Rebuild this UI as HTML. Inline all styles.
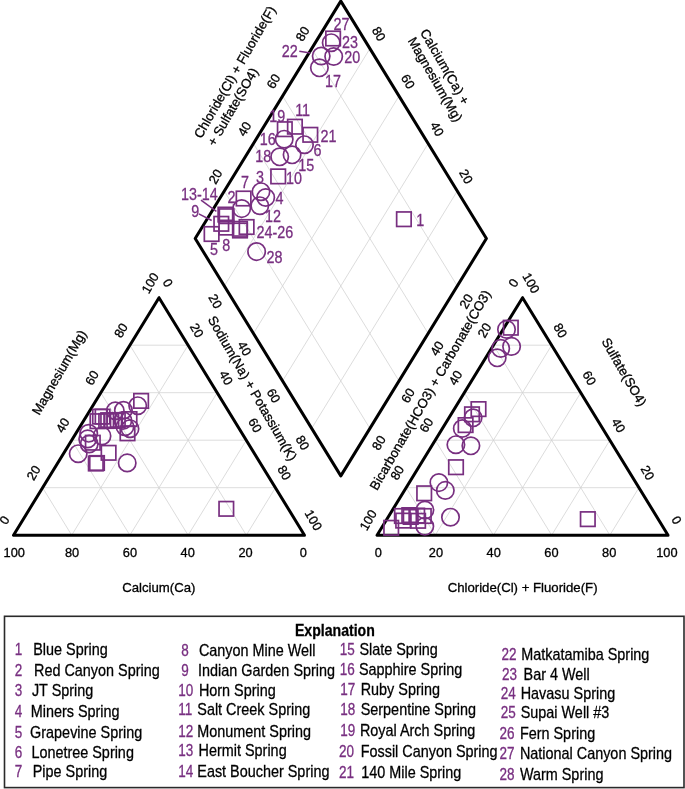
<!DOCTYPE html>
<html><head><meta charset="utf-8"><title>Piper diagram</title>
<style>html,body{margin:0;padding:0;background:#fff}svg{display:block;will-change:transform}text{font-family:"Liberation Sans",sans-serif}</style>
</head><body>
<svg width="685" height="789" viewBox="0 0 685 789">
<rect width="685" height="789" fill="#fff"/>
<line x1="42.60" y1="487.70" x2="275.40" y2="487.70" stroke="#d3d3d3" stroke-width="0.8"/>
<line x1="71.70" y1="535.20" x2="188.10" y2="345.20" stroke="#d3d3d3" stroke-width="0.8"/>
<line x1="246.30" y1="535.20" x2="129.90" y2="345.20" stroke="#d3d3d3" stroke-width="0.8"/>
<line x1="71.70" y1="440.20" x2="246.30" y2="440.20" stroke="#d3d3d3" stroke-width="0.8"/>
<line x1="129.90" y1="535.20" x2="217.20" y2="392.70" stroke="#d3d3d3" stroke-width="0.8"/>
<line x1="188.10" y1="535.20" x2="100.80" y2="392.70" stroke="#d3d3d3" stroke-width="0.8"/>
<line x1="100.80" y1="392.70" x2="217.20" y2="392.70" stroke="#d3d3d3" stroke-width="0.8"/>
<line x1="188.10" y1="535.20" x2="246.30" y2="440.20" stroke="#d3d3d3" stroke-width="0.8"/>
<line x1="129.90" y1="535.20" x2="71.70" y2="440.20" stroke="#d3d3d3" stroke-width="0.8"/>
<line x1="129.90" y1="345.20" x2="188.10" y2="345.20" stroke="#d3d3d3" stroke-width="0.8"/>
<line x1="246.30" y1="535.20" x2="275.40" y2="487.70" stroke="#d3d3d3" stroke-width="0.8"/>
<line x1="71.70" y1="535.20" x2="42.60" y2="487.70" stroke="#d3d3d3" stroke-width="0.8"/>
<line x1="406.15" y1="487.70" x2="638.95" y2="487.70" stroke="#d3d3d3" stroke-width="0.8"/>
<line x1="435.25" y1="535.20" x2="551.65" y2="345.20" stroke="#d3d3d3" stroke-width="0.8"/>
<line x1="609.85" y1="535.20" x2="493.45" y2="345.20" stroke="#d3d3d3" stroke-width="0.8"/>
<line x1="435.25" y1="440.20" x2="609.85" y2="440.20" stroke="#d3d3d3" stroke-width="0.8"/>
<line x1="493.45" y1="535.20" x2="580.75" y2="392.70" stroke="#d3d3d3" stroke-width="0.8"/>
<line x1="551.65" y1="535.20" x2="464.35" y2="392.70" stroke="#d3d3d3" stroke-width="0.8"/>
<line x1="464.35" y1="392.70" x2="580.75" y2="392.70" stroke="#d3d3d3" stroke-width="0.8"/>
<line x1="551.65" y1="535.20" x2="609.85" y2="440.20" stroke="#d3d3d3" stroke-width="0.8"/>
<line x1="493.45" y1="535.20" x2="435.25" y2="440.20" stroke="#d3d3d3" stroke-width="0.8"/>
<line x1="493.45" y1="345.20" x2="551.65" y2="345.20" stroke="#d3d3d3" stroke-width="0.8"/>
<line x1="609.85" y1="535.20" x2="638.95" y2="487.70" stroke="#d3d3d3" stroke-width="0.8"/>
<line x1="435.25" y1="535.20" x2="406.15" y2="487.70" stroke="#d3d3d3" stroke-width="0.8"/>
<line x1="224.32" y1="191.02" x2="369.92" y2="428.42" stroke="#d3d3d3" stroke-width="0.8"/>
<line x1="224.32" y1="285.98" x2="369.92" y2="48.58" stroke="#d3d3d3" stroke-width="0.8"/>
<line x1="253.44" y1="143.54" x2="399.04" y2="380.94" stroke="#d3d3d3" stroke-width="0.8"/>
<line x1="253.44" y1="333.46" x2="399.04" y2="96.06" stroke="#d3d3d3" stroke-width="0.8"/>
<line x1="282.56" y1="96.06" x2="428.16" y2="333.46" stroke="#d3d3d3" stroke-width="0.8"/>
<line x1="282.56" y1="380.94" x2="428.16" y2="143.54" stroke="#d3d3d3" stroke-width="0.8"/>
<line x1="311.68" y1="48.58" x2="457.28" y2="285.98" stroke="#d3d3d3" stroke-width="0.8"/>
<line x1="311.68" y1="428.42" x2="457.28" y2="191.02" stroke="#d3d3d3" stroke-width="0.8"/>
<polygon points="13.50,535.20 304.50,535.20 159.00,297.70" fill="none" stroke="#000" stroke-width="3" stroke-linejoin="round"/>
<polygon points="377.05,535.20 668.05,535.20 522.55,297.70" fill="none" stroke="#000" stroke-width="3" stroke-linejoin="round"/>
<polygon points="195.20,238.50 340.80,1.10 486.40,238.50 340.80,475.90" fill="none" stroke="#000" stroke-width="3" stroke-linejoin="round"/>
<rect x="396.65" y="211.95" width="14.5" height="14.5" fill="none" stroke="#782f80" stroke-width="1.7"/>
<rect x="204.35" y="226.75" width="14.5" height="14.5" fill="none" stroke="#782f80" stroke-width="1.7"/>
<rect x="214.05" y="216.55" width="14.5" height="14.5" fill="none" stroke="#782f80" stroke-width="1.7"/>
<rect x="218.15" y="207.35" width="14.5" height="14.5" fill="none" stroke="#782f80" stroke-width="1.7"/>
<rect x="219.35" y="208.95" width="14.5" height="14.5" fill="none" stroke="#782f80" stroke-width="1.7"/>
<rect x="219.05" y="220.35" width="14.5" height="14.5" fill="none" stroke="#782f80" stroke-width="1.7"/>
<rect x="232.75" y="221.55" width="14.5" height="14.5" fill="none" stroke="#782f80" stroke-width="1.7"/>
<rect x="232.75" y="223.25" width="14.5" height="14.5" fill="none" stroke="#782f80" stroke-width="1.7"/>
<rect x="239.35" y="219.75" width="14.5" height="14.5" fill="none" stroke="#782f80" stroke-width="1.7"/>
<rect x="236.35" y="191.25" width="14.5" height="14.5" fill="none" stroke="#782f80" stroke-width="1.7"/>
<rect x="270.95" y="169.15" width="14.5" height="14.5" fill="none" stroke="#782f80" stroke-width="1.7"/>
<rect x="277.55" y="121.95" width="14.5" height="14.5" fill="none" stroke="#782f80" stroke-width="1.7"/>
<rect x="287.65" y="119.45" width="14.5" height="14.5" fill="none" stroke="#782f80" stroke-width="1.7"/>
<rect x="303.05" y="127.55" width="14.5" height="14.5" fill="none" stroke="#782f80" stroke-width="1.7"/>
<rect x="325.85" y="31.25" width="14.5" height="14.5" fill="none" stroke="#782f80" stroke-width="1.7"/>
<rect x="219.05" y="501.55" width="14.5" height="14.5" fill="none" stroke="#782f80" stroke-width="1.7"/>
<rect x="90.25" y="413.95" width="14.5" height="14.5" fill="none" stroke="#782f80" stroke-width="1.7"/>
<rect x="92.75" y="409.35" width="14.5" height="14.5" fill="none" stroke="#782f80" stroke-width="1.7"/>
<rect x="95.35" y="409.35" width="14.5" height="14.5" fill="none" stroke="#782f80" stroke-width="1.7"/>
<rect x="98.95" y="413.75" width="14.5" height="14.5" fill="none" stroke="#782f80" stroke-width="1.7"/>
<rect x="100.95" y="412.95" width="14.5" height="14.5" fill="none" stroke="#782f80" stroke-width="1.7"/>
<rect x="104.05" y="413.55" width="14.5" height="14.5" fill="none" stroke="#782f80" stroke-width="1.7"/>
<rect x="107.05" y="413.15" width="14.5" height="14.5" fill="none" stroke="#782f80" stroke-width="1.7"/>
<rect x="110.55" y="412.75" width="14.5" height="14.5" fill="none" stroke="#782f80" stroke-width="1.7"/>
<rect x="122.25" y="411.85" width="14.5" height="14.5" fill="none" stroke="#782f80" stroke-width="1.7"/>
<rect x="120.25" y="426.05" width="14.5" height="14.5" fill="none" stroke="#782f80" stroke-width="1.7"/>
<rect x="133.85" y="393.65" width="14.5" height="14.5" fill="none" stroke="#782f80" stroke-width="1.7"/>
<rect x="85.55" y="435.45" width="14.5" height="14.5" fill="none" stroke="#782f80" stroke-width="1.7"/>
<rect x="101.35" y="445.55" width="14.5" height="14.5" fill="none" stroke="#782f80" stroke-width="1.7"/>
<rect x="88.55" y="456.25" width="14.5" height="14.5" fill="none" stroke="#782f80" stroke-width="1.7"/>
<rect x="89.75" y="455.75" width="14.5" height="14.5" fill="none" stroke="#782f80" stroke-width="1.7"/>
<rect x="580.55" y="511.90" width="14.5" height="14.5" fill="none" stroke="#782f80" stroke-width="1.7"/>
<rect x="383.95" y="520.55" width="14.5" height="14.5" fill="none" stroke="#782f80" stroke-width="1.7"/>
<rect x="394.65" y="508.75" width="14.5" height="14.5" fill="none" stroke="#782f80" stroke-width="1.7"/>
<rect x="395.95" y="513.35" width="14.5" height="14.5" fill="none" stroke="#782f80" stroke-width="1.7"/>
<rect x="402.05" y="507.85" width="14.5" height="14.5" fill="none" stroke="#782f80" stroke-width="1.7"/>
<rect x="403.45" y="509.65" width="14.5" height="14.5" fill="none" stroke="#782f80" stroke-width="1.7"/>
<rect x="409.95" y="508.35" width="14.5" height="14.5" fill="none" stroke="#782f80" stroke-width="1.7"/>
<rect x="410.85" y="513.55" width="14.5" height="14.5" fill="none" stroke="#782f80" stroke-width="1.7"/>
<rect x="416.55" y="508.75" width="14.5" height="14.5" fill="none" stroke="#782f80" stroke-width="1.7"/>
<rect x="416.95" y="486.05" width="14.5" height="14.5" fill="none" stroke="#782f80" stroke-width="1.7"/>
<rect x="448.75" y="459.95" width="14.5" height="14.5" fill="none" stroke="#782f80" stroke-width="1.7"/>
<rect x="503.55" y="320.45" width="14.5" height="14.5" fill="none" stroke="#782f80" stroke-width="1.7"/>
<rect x="471.25" y="401.85" width="14.5" height="14.5" fill="none" stroke="#782f80" stroke-width="1.7"/>
<rect x="464.75" y="407.05" width="14.5" height="14.5" fill="none" stroke="#782f80" stroke-width="1.7"/>
<rect x="458.35" y="417.85" width="14.5" height="14.5" fill="none" stroke="#782f80" stroke-width="1.7"/>
<circle cx="241.70" cy="208.60" r="8.7" fill="none" stroke="#782f80" stroke-width="1.7"/>
<circle cx="261.00" cy="191.70" r="8.7" fill="none" stroke="#782f80" stroke-width="1.7"/>
<circle cx="265.70" cy="197.50" r="8.7" fill="none" stroke="#782f80" stroke-width="1.7"/>
<circle cx="259.80" cy="205.70" r="8.7" fill="none" stroke="#782f80" stroke-width="1.7"/>
<circle cx="256.60" cy="251.60" r="8.7" fill="none" stroke="#782f80" stroke-width="1.7"/>
<circle cx="279.70" cy="156.80" r="8.7" fill="none" stroke="#782f80" stroke-width="1.7"/>
<circle cx="292.10" cy="154.80" r="8.7" fill="none" stroke="#782f80" stroke-width="1.7"/>
<circle cx="284.20" cy="139.20" r="8.7" fill="none" stroke="#782f80" stroke-width="1.7"/>
<circle cx="304.50" cy="144.70" r="8.7" fill="none" stroke="#782f80" stroke-width="1.7"/>
<circle cx="331.20" cy="42.70" r="8.7" fill="none" stroke="#782f80" stroke-width="1.7"/>
<circle cx="321.20" cy="56.00" r="8.7" fill="none" stroke="#782f80" stroke-width="1.7"/>
<circle cx="333.70" cy="56.50" r="8.7" fill="none" stroke="#782f80" stroke-width="1.7"/>
<circle cx="319.40" cy="67.80" r="8.7" fill="none" stroke="#782f80" stroke-width="1.7"/>
<circle cx="137.70" cy="405.70" r="8.7" fill="none" stroke="#782f80" stroke-width="1.7"/>
<circle cx="115.30" cy="410.80" r="8.7" fill="none" stroke="#782f80" stroke-width="1.7"/>
<circle cx="123.40" cy="410.30" r="8.7" fill="none" stroke="#782f80" stroke-width="1.7"/>
<circle cx="122.90" cy="420.50" r="8.7" fill="none" stroke="#782f80" stroke-width="1.7"/>
<circle cx="125.00" cy="426.70" r="8.7" fill="none" stroke="#782f80" stroke-width="1.7"/>
<circle cx="130.00" cy="428.70" r="8.7" fill="none" stroke="#782f80" stroke-width="1.7"/>
<circle cx="102.00" cy="435.90" r="8.7" fill="none" stroke="#782f80" stroke-width="1.7"/>
<circle cx="88.70" cy="433.30" r="8.7" fill="none" stroke="#782f80" stroke-width="1.7"/>
<circle cx="87.70" cy="438.90" r="8.7" fill="none" stroke="#782f80" stroke-width="1.7"/>
<circle cx="89.20" cy="444.00" r="8.7" fill="none" stroke="#782f80" stroke-width="1.7"/>
<circle cx="78.20" cy="453.70" r="8.7" fill="none" stroke="#782f80" stroke-width="1.7"/>
<circle cx="127.20" cy="462.90" r="8.7" fill="none" stroke="#782f80" stroke-width="1.7"/>
<circle cx="424.90" cy="510.10" r="8.7" fill="none" stroke="#782f80" stroke-width="1.7"/>
<circle cx="424.80" cy="526.30" r="8.7" fill="none" stroke="#782f80" stroke-width="1.7"/>
<circle cx="438.90" cy="482.60" r="8.7" fill="none" stroke="#782f80" stroke-width="1.7"/>
<circle cx="445.30" cy="490.40" r="8.7" fill="none" stroke="#782f80" stroke-width="1.7"/>
<circle cx="450.50" cy="517.20" r="8.7" fill="none" stroke="#782f80" stroke-width="1.7"/>
<circle cx="506.50" cy="329.40" r="8.7" fill="none" stroke="#782f80" stroke-width="1.7"/>
<circle cx="511.60" cy="346.40" r="8.7" fill="none" stroke="#782f80" stroke-width="1.7"/>
<circle cx="500.70" cy="348.40" r="8.7" fill="none" stroke="#782f80" stroke-width="1.7"/>
<circle cx="497.20" cy="357.80" r="8.7" fill="none" stroke="#782f80" stroke-width="1.7"/>
<circle cx="473.10" cy="417.80" r="8.7" fill="none" stroke="#782f80" stroke-width="1.7"/>
<circle cx="462.30" cy="428.50" r="8.7" fill="none" stroke="#782f80" stroke-width="1.7"/>
<circle cx="455.90" cy="444.70" r="8.7" fill="none" stroke="#782f80" stroke-width="1.7"/>
<circle cx="470.90" cy="445.80" r="8.7" fill="none" stroke="#782f80" stroke-width="1.7"/>
<text transform="translate(14.20,557.18)" text-anchor="middle" font-size="12.8" fill="#000" stroke="#000" stroke-width="0.3">100</text>
<text transform="translate(72.04,557.18)" text-anchor="middle" font-size="12.8" fill="#000" stroke="#000" stroke-width="0.3">80</text>
<text transform="translate(129.88,557.18)" text-anchor="middle" font-size="12.8" fill="#000" stroke="#000" stroke-width="0.3">60</text>
<text transform="translate(187.72,557.18)" text-anchor="middle" font-size="12.8" fill="#000" stroke="#000" stroke-width="0.3">40</text>
<text transform="translate(245.56,557.18)" text-anchor="middle" font-size="12.8" fill="#000" stroke="#000" stroke-width="0.3">20</text>
<text transform="translate(303.40,557.18)" text-anchor="middle" font-size="12.8" fill="#000" stroke="#000" stroke-width="0.3">0</text>
<text transform="translate(378.20,557.18)" text-anchor="middle" font-size="12.8" fill="#000" stroke="#000" stroke-width="0.3">0</text>
<text transform="translate(435.94,557.18)" text-anchor="middle" font-size="12.8" fill="#000" stroke="#000" stroke-width="0.3">20</text>
<text transform="translate(493.68,557.18)" text-anchor="middle" font-size="12.8" fill="#000" stroke="#000" stroke-width="0.3">40</text>
<text transform="translate(551.42,557.18)" text-anchor="middle" font-size="12.8" fill="#000" stroke="#000" stroke-width="0.3">60</text>
<text transform="translate(609.16,557.18)" text-anchor="middle" font-size="12.8" fill="#000" stroke="#000" stroke-width="0.3">80</text>
<text transform="translate(666.90,557.18)" text-anchor="middle" font-size="12.8" fill="#000" stroke="#000" stroke-width="0.3">100</text>
<text transform="translate(158.80,591.83)" text-anchor="middle" font-size="13.2" fill="#000" stroke="#000" stroke-width="0.3">Calcium(Ca)</text>
<text transform="translate(522.60,591.83)" text-anchor="middle" font-size="13.2" fill="#000" stroke="#000" stroke-width="0.3">Chloride(Cl) + Fluoride(F)</text>
<text transform="translate(8.27,522.44) rotate(-60.0)" text-anchor="middle" font-size="12.8" fill="#000" stroke="#000" stroke-width="0.3">0</text>
<text transform="translate(37.41,475.00) rotate(-60.0)" text-anchor="middle" font-size="12.8" fill="#000" stroke="#000" stroke-width="0.3">20</text>
<text transform="translate(66.55,427.56) rotate(-60.0)" text-anchor="middle" font-size="12.8" fill="#000" stroke="#000" stroke-width="0.3">40</text>
<text transform="translate(95.69,380.12) rotate(-60.0)" text-anchor="middle" font-size="12.8" fill="#000" stroke="#000" stroke-width="0.3">60</text>
<text transform="translate(124.83,332.68) rotate(-60.0)" text-anchor="middle" font-size="12.8" fill="#000" stroke="#000" stroke-width="0.3">80</text>
<text transform="translate(153.97,285.24) rotate(-60.0)" text-anchor="middle" font-size="12.8" fill="#000" stroke="#000" stroke-width="0.3">100</text>
<text transform="translate(163.93,285.14) rotate(60.0)" text-anchor="middle" font-size="12.8" fill="#000" stroke="#000" stroke-width="0.3">0</text>
<text transform="translate(193.07,332.58) rotate(60.0)" text-anchor="middle" font-size="12.8" fill="#000" stroke="#000" stroke-width="0.3">20</text>
<text transform="translate(222.21,380.02) rotate(60.0)" text-anchor="middle" font-size="12.8" fill="#000" stroke="#000" stroke-width="0.3">40</text>
<text transform="translate(251.35,427.46) rotate(60.0)" text-anchor="middle" font-size="12.8" fill="#000" stroke="#000" stroke-width="0.3">60</text>
<text transform="translate(280.49,474.90) rotate(60.0)" text-anchor="middle" font-size="12.8" fill="#000" stroke="#000" stroke-width="0.3">80</text>
<text transform="translate(309.63,522.34) rotate(60.0)" text-anchor="middle" font-size="12.8" fill="#000" stroke="#000" stroke-width="0.3">100</text>
<text transform="translate(211.59,303.47) rotate(60.0)" text-anchor="middle" font-size="12.8" fill="#000" stroke="#000" stroke-width="0.3">20</text>
<text transform="translate(240.65,350.65) rotate(60.0)" text-anchor="middle" font-size="12.8" fill="#000" stroke="#000" stroke-width="0.3">40</text>
<text transform="translate(269.71,397.83) rotate(60.0)" text-anchor="middle" font-size="12.8" fill="#000" stroke="#000" stroke-width="0.3">60</text>
<text transform="translate(298.77,445.01) rotate(60.0)" text-anchor="middle" font-size="12.8" fill="#000" stroke="#000" stroke-width="0.3">80</text>
<text transform="translate(219.23,178.75) rotate(-60.0)" text-anchor="middle" font-size="12.8" fill="#000" stroke="#000" stroke-width="0.3">20</text>
<text transform="translate(248.29,131.19) rotate(-60.0)" text-anchor="middle" font-size="12.8" fill="#000" stroke="#000" stroke-width="0.3">40</text>
<text transform="translate(277.35,83.63) rotate(-60.0)" text-anchor="middle" font-size="12.8" fill="#000" stroke="#000" stroke-width="0.3">60</text>
<text transform="translate(306.41,36.07) rotate(-60.0)" text-anchor="middle" font-size="12.8" fill="#000" stroke="#000" stroke-width="0.3">80</text>
<text transform="translate(462.33,178.75) rotate(60.0)" text-anchor="middle" font-size="12.8" fill="#000" stroke="#000" stroke-width="0.3">20</text>
<text transform="translate(433.23,131.19) rotate(60.0)" text-anchor="middle" font-size="12.8" fill="#000" stroke="#000" stroke-width="0.3">40</text>
<text transform="translate(404.13,83.63) rotate(60.0)" text-anchor="middle" font-size="12.8" fill="#000" stroke="#000" stroke-width="0.3">60</text>
<text transform="translate(375.03,36.07) rotate(60.0)" text-anchor="middle" font-size="12.8" fill="#000" stroke="#000" stroke-width="0.3">80</text>
<text transform="translate(469.97,303.47) rotate(-60.0)" text-anchor="middle" font-size="12.8" fill="#000" stroke="#000" stroke-width="0.3">20</text>
<text transform="translate(440.87,350.65) rotate(-60.0)" text-anchor="middle" font-size="12.8" fill="#000" stroke="#000" stroke-width="0.3">40</text>
<text transform="translate(411.77,397.83) rotate(-60.0)" text-anchor="middle" font-size="12.8" fill="#000" stroke="#000" stroke-width="0.3">60</text>
<text transform="translate(382.67,445.01) rotate(-60.0)" text-anchor="middle" font-size="12.8" fill="#000" stroke="#000" stroke-width="0.3">80</text>
<text transform="translate(517.37,285.14) rotate(-60.0)" text-anchor="middle" font-size="12.8" fill="#000" stroke="#000" stroke-width="0.3">0</text>
<text transform="translate(488.29,332.58) rotate(-60.0)" text-anchor="middle" font-size="12.8" fill="#000" stroke="#000" stroke-width="0.3">20</text>
<text transform="translate(459.21,380.02) rotate(-60.0)" text-anchor="middle" font-size="12.8" fill="#000" stroke="#000" stroke-width="0.3">40</text>
<text transform="translate(430.13,427.46) rotate(-60.0)" text-anchor="middle" font-size="12.8" fill="#000" stroke="#000" stroke-width="0.3">60</text>
<text transform="translate(401.05,474.90) rotate(-60.0)" text-anchor="middle" font-size="12.8" fill="#000" stroke="#000" stroke-width="0.3">80</text>
<text transform="translate(371.97,522.34) rotate(-60.0)" text-anchor="middle" font-size="12.8" fill="#000" stroke="#000" stroke-width="0.3">100</text>
<text transform="translate(672.83,522.44) rotate(60.0)" text-anchor="middle" font-size="12.8" fill="#000" stroke="#000" stroke-width="0.3">0</text>
<text transform="translate(643.73,475.00) rotate(60.0)" text-anchor="middle" font-size="12.8" fill="#000" stroke="#000" stroke-width="0.3">20</text>
<text transform="translate(614.63,427.56) rotate(60.0)" text-anchor="middle" font-size="12.8" fill="#000" stroke="#000" stroke-width="0.3">40</text>
<text transform="translate(585.53,380.12) rotate(60.0)" text-anchor="middle" font-size="12.8" fill="#000" stroke="#000" stroke-width="0.3">60</text>
<text transform="translate(556.43,332.68) rotate(60.0)" text-anchor="middle" font-size="12.8" fill="#000" stroke="#000" stroke-width="0.3">80</text>
<text transform="translate(527.33,285.24) rotate(60.0)" text-anchor="middle" font-size="12.8" fill="#000" stroke="#000" stroke-width="0.3">100</text>
<text transform="translate(63.09,374.66) rotate(-60.0)" text-anchor="middle" font-size="13.2" fill="#000" stroke="#000" stroke-width="0.3">Magnesium(Mg)</text>
<text transform="translate(248.51,390.56) rotate(60.0)" text-anchor="middle" font-size="13.2" fill="#000" stroke="#000" stroke-width="0.3">Sodium(Na) + Potassium(K)</text>
<text transform="translate(238.69,74.26) rotate(-60.0)" text-anchor="middle" font-size="13.2" fill="#000" stroke="#000" stroke-width="0.3">Chloride(Cl) + Fluoride(F)</text>
<text transform="translate(236.69,109.16) rotate(-60.0)" text-anchor="middle" font-size="13.2" fill="#000" stroke="#000" stroke-width="0.3">+ Sulfate(SO4)</text>
<text transform="translate(441.01,68.96) rotate(60.0)" text-anchor="middle" font-size="13.2" fill="#000" stroke="#000" stroke-width="0.3">Calcium(Ca) +</text>
<text transform="translate(431.31,81.66) rotate(60.0)" text-anchor="middle" font-size="13.2" fill="#000" stroke="#000" stroke-width="0.3">Magnesium(Mg)</text>
<text transform="translate(434.09,392.36) rotate(-60.0)" text-anchor="middle" font-size="13.2" fill="#000" stroke="#000" stroke-width="0.3">Bicarbonate(HCO3) + Carbonate(CO3)</text>
<text transform="translate(620.21,374.36) rotate(60.0)" text-anchor="middle" font-size="13.2" fill="#000" stroke="#000" stroke-width="0.3">Sulfate(SO4)</text>
<text transform="translate(420.30,226.48) scale(0.86,1)" text-anchor="middle" font-size="16.7" fill="#782f80" stroke="#782f80" stroke-width="0.3">1</text>
<text transform="translate(214.00,254.58) scale(0.86,1)" text-anchor="middle" font-size="16.7" fill="#782f80" stroke="#782f80" stroke-width="0.3">5</text>
<text transform="translate(226.30,250.58) scale(0.86,1)" text-anchor="middle" font-size="16.7" fill="#782f80" stroke="#782f80" stroke-width="0.3">8</text>
<text transform="translate(195.30,216.98) scale(0.86,1)" text-anchor="middle" font-size="16.7" fill="#782f80" stroke="#782f80" stroke-width="0.3">9</text>
<text transform="translate(199.40,200.08) scale(0.86,1)" text-anchor="middle" font-size="16.7" fill="#782f80" stroke="#782f80" stroke-width="0.3">13-14</text>
<text transform="translate(231.60,203.48) scale(0.86,1)" text-anchor="middle" font-size="16.7" fill="#782f80" stroke="#782f80" stroke-width="0.3">2</text>
<text transform="translate(244.90,187.78) scale(0.86,1)" text-anchor="middle" font-size="16.7" fill="#782f80" stroke="#782f80" stroke-width="0.3">7</text>
<text transform="translate(260.00,182.68) scale(0.86,1)" text-anchor="middle" font-size="16.7" fill="#782f80" stroke="#782f80" stroke-width="0.3">3</text>
<text transform="translate(279.40,204.18) scale(0.86,1)" text-anchor="middle" font-size="16.7" fill="#782f80" stroke="#782f80" stroke-width="0.3">4</text>
<text transform="translate(273.00,221.88) scale(0.86,1)" text-anchor="middle" font-size="16.7" fill="#782f80" stroke="#782f80" stroke-width="0.3">12</text>
<text transform="translate(274.80,238.28) scale(0.86,1)" text-anchor="middle" font-size="16.7" fill="#782f80" stroke="#782f80" stroke-width="0.3">24-26</text>
<text transform="translate(274.60,262.78) scale(0.86,1)" text-anchor="middle" font-size="16.7" fill="#782f80" stroke="#782f80" stroke-width="0.3">28</text>
<text transform="translate(294.00,183.68) scale(0.86,1)" text-anchor="middle" font-size="16.7" fill="#782f80" stroke="#782f80" stroke-width="0.3">10</text>
<text transform="translate(306.20,170.68) scale(0.86,1)" text-anchor="middle" font-size="16.7" fill="#782f80" stroke="#782f80" stroke-width="0.3">15</text>
<text transform="translate(263.20,162.28) scale(0.86,1)" text-anchor="middle" font-size="16.7" fill="#782f80" stroke="#782f80" stroke-width="0.3">18</text>
<text transform="translate(267.80,144.98) scale(0.86,1)" text-anchor="middle" font-size="16.7" fill="#782f80" stroke="#782f80" stroke-width="0.3">16</text>
<text transform="translate(277.30,122.28) scale(0.86,1)" text-anchor="middle" font-size="16.7" fill="#782f80" stroke="#782f80" stroke-width="0.3">19</text>
<text transform="translate(302.60,116.18) scale(0.86,1)" text-anchor="middle" font-size="16.7" fill="#782f80" stroke="#782f80" stroke-width="0.3">11</text>
<text transform="translate(328.60,141.88) scale(0.86,1)" text-anchor="middle" font-size="16.7" fill="#782f80" stroke="#782f80" stroke-width="0.3">21</text>
<text transform="translate(317.40,155.78) scale(0.86,1)" text-anchor="middle" font-size="16.7" fill="#782f80" stroke="#782f80" stroke-width="0.3">6</text>
<text transform="translate(341.40,29.58) scale(0.86,1)" text-anchor="middle" font-size="16.7" fill="#782f80" stroke="#782f80" stroke-width="0.3">27</text>
<text transform="translate(349.90,47.68) scale(0.86,1)" text-anchor="middle" font-size="16.7" fill="#782f80" stroke="#782f80" stroke-width="0.3">23</text>
<text transform="translate(352.20,63.48) scale(0.86,1)" text-anchor="middle" font-size="16.7" fill="#782f80" stroke="#782f80" stroke-width="0.3">20</text>
<text transform="translate(333.00,86.98) scale(0.86,1)" text-anchor="middle" font-size="16.7" fill="#782f80" stroke="#782f80" stroke-width="0.3">17</text>
<text transform="translate(289.80,57.48) scale(0.86,1)" text-anchor="middle" font-size="16.7" fill="#782f80" stroke="#782f80" stroke-width="0.3">22</text>
<line x1="299.30" y1="51.20" x2="310.50" y2="53.00" stroke="#782f80" stroke-width="1.5"/>
<line x1="201.00" y1="200.10" x2="216.40" y2="211.30" stroke="#782f80" stroke-width="1.5"/>
<line x1="198.80" y1="213.80" x2="211.70" y2="220.50" stroke="#782f80" stroke-width="1.5"/>
<rect x="4.5" y="616.3" width="679.5" height="171.3" fill="#fff" stroke="#2a2a2a" stroke-width="1.6"/>
<text transform="translate(334.90,635.70) scale(0.82,1)" text-anchor="middle" font-size="17.2" fill="#000" stroke="#000" stroke-width="0.3" font-weight="bold">Explanation</text>
<text transform="translate(14.80,654.60) scale(0.828,1)" text-anchor="start" font-size="16.3" fill="#782f80" stroke="#782f80" stroke-width="0.3">1</text>
<text transform="translate(33.20,654.60) scale(0.828,1)" text-anchor="start" font-size="17.4" fill="#000" stroke="#000" stroke-width="0.3">Blue Spring</text>
<text transform="translate(14.80,675.50) scale(0.828,1)" text-anchor="start" font-size="16.3" fill="#782f80" stroke="#782f80" stroke-width="0.3">2</text>
<text transform="translate(34.00,675.50) scale(0.828,1)" text-anchor="start" font-size="17.4" fill="#000" stroke="#000" stroke-width="0.3">Red Canyon Spring</text>
<text transform="translate(14.80,695.50) scale(0.828,1)" text-anchor="start" font-size="16.3" fill="#782f80" stroke="#782f80" stroke-width="0.3">3</text>
<text transform="translate(31.90,695.50) scale(0.828,1)" text-anchor="start" font-size="17.4" fill="#000" stroke="#000" stroke-width="0.3">JT Spring</text>
<text transform="translate(14.80,717.00) scale(0.828,1)" text-anchor="start" font-size="16.3" fill="#782f80" stroke="#782f80" stroke-width="0.3">4</text>
<text transform="translate(30.70,717.00) scale(0.828,1)" text-anchor="start" font-size="17.4" fill="#000" stroke="#000" stroke-width="0.3">Miners Spring</text>
<text transform="translate(14.80,737.80) scale(0.828,1)" text-anchor="start" font-size="16.3" fill="#782f80" stroke="#782f80" stroke-width="0.3">5</text>
<text transform="translate(30.10,737.80) scale(0.828,1)" text-anchor="start" font-size="17.4" fill="#000" stroke="#000" stroke-width="0.3">Grapevine Spring</text>
<text transform="translate(14.80,758.10) scale(0.828,1)" text-anchor="start" font-size="16.3" fill="#782f80" stroke="#782f80" stroke-width="0.3">6</text>
<text transform="translate(31.40,758.10) scale(0.828,1)" text-anchor="start" font-size="17.4" fill="#000" stroke="#000" stroke-width="0.3">Lonetree Spring</text>
<text transform="translate(14.80,777.20) scale(0.828,1)" text-anchor="start" font-size="16.3" fill="#782f80" stroke="#782f80" stroke-width="0.3">7</text>
<text transform="translate(32.70,777.20) scale(0.828,1)" text-anchor="start" font-size="17.4" fill="#000" stroke="#000" stroke-width="0.3">Pipe Spring</text>
<text transform="translate(181.30,656.30) scale(0.828,1)" text-anchor="start" font-size="16.3" fill="#782f80" stroke="#782f80" stroke-width="0.3">8</text>
<text transform="translate(198.90,656.30) scale(0.828,1)" text-anchor="start" font-size="17.4" fill="#000" stroke="#000" stroke-width="0.3">Canyon Mine Well</text>
<text transform="translate(181.30,675.80) scale(0.828,1)" text-anchor="start" font-size="16.3" fill="#782f80" stroke="#782f80" stroke-width="0.3">9</text>
<text transform="translate(198.10,675.80) scale(0.828,1)" text-anchor="start" font-size="17.4" fill="#000" stroke="#000" stroke-width="0.3">Indian Garden Spring</text>
<text transform="translate(178.30,695.50) scale(0.828,1)" text-anchor="start" font-size="16.3" fill="#782f80" stroke="#782f80" stroke-width="0.3">10</text>
<text transform="translate(198.90,695.50) scale(0.828,1)" text-anchor="start" font-size="17.4" fill="#000" stroke="#000" stroke-width="0.3">Horn Spring</text>
<text transform="translate(178.30,715.40) scale(0.828,1)" text-anchor="start" font-size="16.3" fill="#782f80" stroke="#782f80" stroke-width="0.3">11</text>
<text transform="translate(197.30,715.40) scale(0.828,1)" text-anchor="start" font-size="17.4" fill="#000" stroke="#000" stroke-width="0.3">Salt Creek Spring</text>
<text transform="translate(178.30,737.10) scale(0.828,1)" text-anchor="start" font-size="16.3" fill="#782f80" stroke="#782f80" stroke-width="0.3">12</text>
<text transform="translate(197.30,737.10) scale(0.828,1)" text-anchor="start" font-size="17.4" fill="#000" stroke="#000" stroke-width="0.3">Monument Spring</text>
<text transform="translate(178.30,756.30) scale(0.828,1)" text-anchor="start" font-size="16.3" fill="#782f80" stroke="#782f80" stroke-width="0.3">13</text>
<text transform="translate(198.60,756.30) scale(0.828,1)" text-anchor="start" font-size="17.4" fill="#000" stroke="#000" stroke-width="0.3">Hermit Spring</text>
<text transform="translate(178.30,776.50) scale(0.828,1)" text-anchor="start" font-size="16.3" fill="#782f80" stroke="#782f80" stroke-width="0.3">14</text>
<text transform="translate(197.30,776.50) scale(0.828,1)" text-anchor="start" font-size="17.4" fill="#000" stroke="#000" stroke-width="0.3">East Boucher Spring</text>
<text transform="translate(339.70,655.20) scale(0.828,1)" text-anchor="start" font-size="16.3" fill="#782f80" stroke="#782f80" stroke-width="0.3">15</text>
<text transform="translate(359.40,655.20) scale(0.828,1)" text-anchor="start" font-size="17.4" fill="#000" stroke="#000" stroke-width="0.3">Slate Spring</text>
<text transform="translate(339.70,674.70) scale(0.828,1)" text-anchor="start" font-size="16.3" fill="#782f80" stroke="#782f80" stroke-width="0.3">16</text>
<text transform="translate(358.90,674.70) scale(0.828,1)" text-anchor="start" font-size="17.4" fill="#000" stroke="#000" stroke-width="0.3">Sapphire Spring</text>
<text transform="translate(340.20,695.00) scale(0.828,1)" text-anchor="start" font-size="16.3" fill="#782f80" stroke="#782f80" stroke-width="0.3">17</text>
<text transform="translate(360.70,695.00) scale(0.828,1)" text-anchor="start" font-size="17.4" fill="#000" stroke="#000" stroke-width="0.3">Ruby Spring</text>
<text transform="translate(340.20,714.80) scale(0.828,1)" text-anchor="start" font-size="16.3" fill="#782f80" stroke="#782f80" stroke-width="0.3">18</text>
<text transform="translate(360.70,714.80) scale(0.828,1)" text-anchor="start" font-size="17.4" fill="#000" stroke="#000" stroke-width="0.3">Serpentine Spring</text>
<text transform="translate(340.20,736.40) scale(0.828,1)" text-anchor="start" font-size="16.3" fill="#782f80" stroke="#782f80" stroke-width="0.3">19</text>
<text transform="translate(359.90,736.40) scale(0.828,1)" text-anchor="start" font-size="17.4" fill="#000" stroke="#000" stroke-width="0.3">Royal Arch Spring</text>
<text transform="translate(338.90,757.00) scale(0.828,1)" text-anchor="start" font-size="16.3" fill="#782f80" stroke="#782f80" stroke-width="0.3">20</text>
<text transform="translate(360.70,757.00) scale(0.828,1)" text-anchor="start" font-size="17.4" fill="#000" stroke="#000" stroke-width="0.3">Fossil Canyon Spring</text>
<text transform="translate(338.90,778.20) scale(0.828,1)" text-anchor="start" font-size="16.3" fill="#782f80" stroke="#782f80" stroke-width="0.3">21</text>
<text transform="translate(361.20,778.20) scale(0.828,1)" text-anchor="start" font-size="17.4" fill="#000" stroke="#000" stroke-width="0.3">140 Mile Spring</text>
<text transform="translate(501.40,659.60) scale(0.828,1)" text-anchor="start" font-size="16.3" fill="#782f80" stroke="#782f80" stroke-width="0.3">22</text>
<text transform="translate(521.30,659.60) scale(0.828,1)" text-anchor="start" font-size="17.4" fill="#000" stroke="#000" stroke-width="0.3">Matkatamiba Spring</text>
<text transform="translate(502.00,680.00) scale(0.828,1)" text-anchor="start" font-size="16.3" fill="#782f80" stroke="#782f80" stroke-width="0.3">23</text>
<text transform="translate(523.60,680.00) scale(0.828,1)" text-anchor="start" font-size="17.4" fill="#000" stroke="#000" stroke-width="0.3">Bar 4 Well</text>
<text transform="translate(500.80,698.60) scale(0.828,1)" text-anchor="start" font-size="16.3" fill="#782f80" stroke="#782f80" stroke-width="0.3">24</text>
<text transform="translate(520.70,698.60) scale(0.828,1)" text-anchor="start" font-size="17.4" fill="#000" stroke="#000" stroke-width="0.3">Havasu Spring</text>
<text transform="translate(500.80,717.80) scale(0.828,1)" text-anchor="start" font-size="16.3" fill="#782f80" stroke="#782f80" stroke-width="0.3">25</text>
<text transform="translate(520.70,717.80) scale(0.828,1)" text-anchor="start" font-size="17.4" fill="#000" stroke="#000" stroke-width="0.3">Supai Well #3</text>
<text transform="translate(499.40,738.80) scale(0.828,1)" text-anchor="start" font-size="16.3" fill="#782f80" stroke="#782f80" stroke-width="0.3">26</text>
<text transform="translate(519.90,738.80) scale(0.828,1)" text-anchor="start" font-size="17.4" fill="#000" stroke="#000" stroke-width="0.3">Fern Spring</text>
<text transform="translate(499.40,758.80) scale(0.828,1)" text-anchor="start" font-size="16.3" fill="#782f80" stroke="#782f80" stroke-width="0.3">27</text>
<text transform="translate(519.90,758.80) scale(0.828,1)" text-anchor="start" font-size="17.4" fill="#000" stroke="#000" stroke-width="0.3">National Canyon Spring</text>
<text transform="translate(499.40,780.10) scale(0.828,1)" text-anchor="start" font-size="16.3" fill="#782f80" stroke="#782f80" stroke-width="0.3">28</text>
<text transform="translate(519.90,780.10) scale(0.828,1)" text-anchor="start" font-size="17.4" fill="#000" stroke="#000" stroke-width="0.3">Warm Spring</text>
</svg>
</body></html>
